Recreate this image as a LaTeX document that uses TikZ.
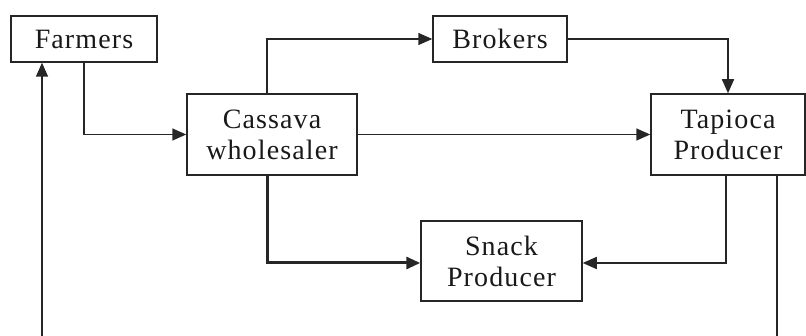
\documentclass[tikz,border=0pt]{standalone}
\usepackage{fontspec}
\setmainfont[LetterSpace=4]{Liberation Serif}
\usetikzlibrary{arrows.meta}
\begin{document}
\begin{tikzpicture}[x=1pt,y=-1pt,
  box/.style={draw=black!85,line width=1.5pt,rectangle,inner sep=0pt,align=center,
    font=\fontsize{28}{31}\selectfont,text=black!90},
  conn/.style={draw=black!85,line width=1.5pt,-{Triangle[length=14pt,width=12pt]}},
  thick conn/.style={conn,line width=3pt}]
\useasboundingbox (0,0) rectangle (806,336);
\node[box,minimum width=146pt,minimum height=46pt] (farm) at (84,39) {Farmers};
\node[box,minimum width=170pt,minimum height=81pt] (cass) at (272,134.5) {Cassava\\wholesaler};
\node[box,minimum width=134pt,minimum height=46pt] (brok) at (500,39) {Brokers};
\node[box,minimum width=154pt,minimum height=81pt] (tapi) at (728,134.5) {Tapioca\\Producer};
\node[box,minimum width=161pt,minimum height=80pt] (snack) at (501.5,261) {Snack\\Producer};
\coordinate (b1) at (42,336);
\coordinate (b2) at (777,336);
\draw[conn] (farm.south) |- (cass.west);
\draw[conn] ([xshift=-5pt]cass.north) |- (brok.west);
\draw[conn] (brok.east) -| (tapi.north);
\draw[conn] (cass.east) -- (tapi.west);
\draw[thick conn] ([xshift=-5pt]cass.south) |- ([yshift=-2pt]snack.west);
\draw[conn] ([xshift=-2pt]tapi.south) |- ([yshift=-2pt]snack.east);
\draw[draw=black!85,line width=1.5pt] (b2 |- tapi.south) -- (b2);
\draw[conn] (b1) -- (b1 |- farm.south);
\end{tikzpicture}
\end{document}
